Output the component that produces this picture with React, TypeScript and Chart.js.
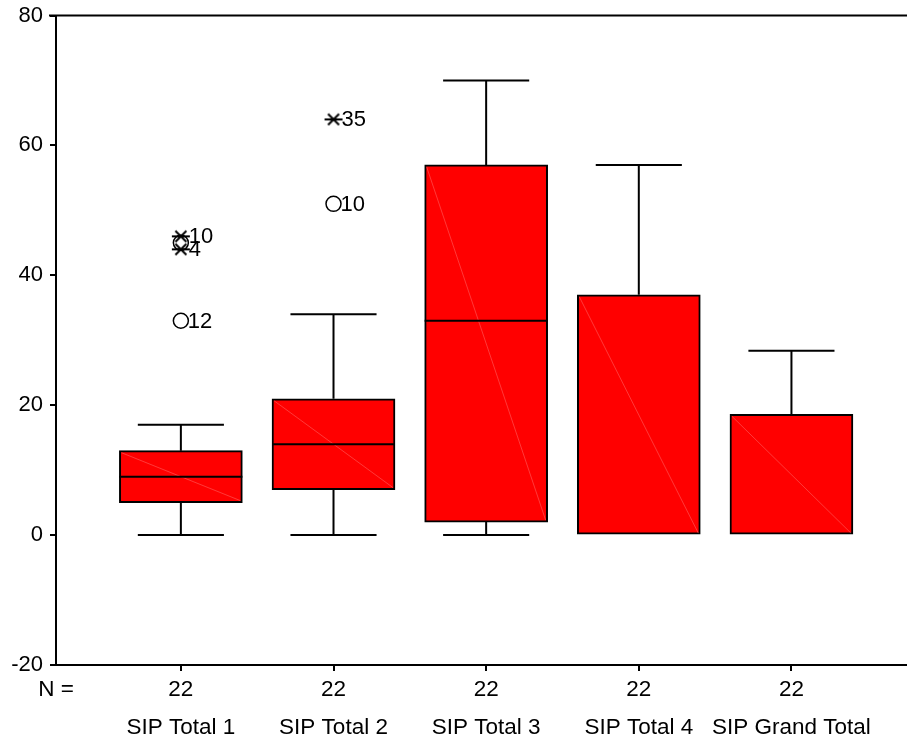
import React, { useEffect, useRef } from 'react';
import { Chart, registerables } from 'chart.js';

Chart.register(...registerables);

// ---- data ----
const categories = ['SIP Total 1', 'SIP Total 2', 'SIP Total 3', 'SIP Total 4', 'SIP Grand Total'];
const counts = [22, 22, 22, 22, 22];
const whiskerLow = [0, 0, 0, 0, 0];
const q1 = [5, 7, 2, 0, 0];
const median = [9, 14, 33, 0, 0];
const q3 = [13, 21, 57, 37, 18.6];
const whiskerHigh = [17, 34, 70, 57, 28.4];

// outliers (circles) and extremes (asterisks): category index (1-based), value, case label
const outlierCat = [1, 1, 2];
const outlierVal = [33, 45, 51];
const outlierLabel = ['12', '', '10'];
const extremeCat = [1, 1, 2];
const extremeVal = [46, 44, 64];
const extremeLabel = ['10', '4', '35'];

const yTicks = [-20, 0, 20, 40, 60, 80];

const FONT = "'Liberation Sans', Arial, sans-serif";
const X_MIN = 0.182;
const X_MAX = 5.757;

export default function App() {
  const ref = useRef<HTMLCanvasElement>(null);

  useEffect(() => {
    document.body.style.margin = '0';
    const canvas = ref.current;
    if (!canvas) return;

    // asterisk point style
    const star = document.createElement('canvas');
    star.width = 20;
    star.height = 14;
    const sc = star.getContext('2d')!;
    sc.strokeStyle = '#000';
    sc.lineWidth = 2;
    sc.beginPath();
    sc.moveTo(1, 7);
    sc.lineTo(19, 7);
    sc.moveTo(4.5, 1.5);
    sc.lineTo(15.5, 12.5);
    sc.moveTo(15.5, 1.5);
    sc.lineTo(4.5, 12.5);
    sc.stroke();

    const boxPlugin = {
      id: 'boxExtras',
      beforeDatasetsDraw(chart: any) {
        const { ctx, scales, chartArea } = chart;
        const x = scales.x;
        const y = scales.y;
        ctx.save();
        ctx.strokeStyle = '#000';
        ctx.lineWidth = 2;
        // top frame line
        ctx.beginPath();
        ctx.moveTo(chartArea.left - 7, chartArea.top);
        ctx.lineTo(chartArea.right, chartArea.top);
        ctx.stroke();
        const meta = chart.getDatasetMeta(0);
        categories.forEach((_, i) => {
          const bar: any = meta.data[i];
          const w = bar.width;
          const cx = x.getPixelForValue(i + 1);
          const capHalf = w * 0.35;
          const pairs = [
            [q1[i], whiskerLow[i]],
            [q3[i], whiskerHigh[i]],
          ];
          pairs.forEach(([from, to]) => {
            if (from === to) return;
            const y0 = y.getPixelForValue(from);
            const y1 = y.getPixelForValue(to);
            ctx.beginPath();
            ctx.moveTo(cx, y0);
            ctx.lineTo(cx, y1);
            ctx.moveTo(cx - capHalf, y1);
            ctx.lineTo(cx + capHalf, y1);
            ctx.stroke();
          });
        });
        ctx.restore();
      },
      afterDatasetsDraw(chart: any) {
        const { ctx, scales } = chart;
        const x = scales.x;
        const y = scales.y;
        const meta = chart.getDatasetMeta(0);
        ctx.save();
        categories.forEach((_, i) => {
          const bar: any = meta.data[i];
          const w = bar.width;
          const left = bar.x - w / 2;
          const right = bar.x + w / 2;
          const top = y.getPixelForValue(q3[i]);
          const bottom = y.getPixelForValue(q1[i]);
          // faint diagonal
          ctx.strokeStyle = 'rgba(255,120,120,0.8)';
          ctx.lineWidth = 0.6;
          ctx.beginPath();
          ctx.moveTo(left + 2, top + 2);
          ctx.lineTo(right - 2, bottom - 2);
          ctx.stroke();
          // median
          if (median[i] !== q1[i] && median[i] !== q3[i]) {
            ctx.strokeStyle = '#000';
            ctx.lineWidth = 2;
            const my = y.getPixelForValue(median[i]);
            ctx.beginPath();
            ctx.moveTo(left, my);
            ctx.lineTo(right, my);
            ctx.stroke();
          }
        });
        // case labels
        ctx.fillStyle = '#000';
        ctx.font = `22px ${FONT}`;
        ctx.textAlign = 'left';
        ctx.textBaseline = 'middle';
        outlierCat.forEach((c, k) => {
          if (!outlierLabel[k]) return;
          ctx.fillText(outlierLabel[k], x.getPixelForValue(c) + 7, y.getPixelForValue(outlierVal[k]) + 1);
        });
        extremeCat.forEach((c, k) => {
          if (!extremeLabel[k]) return;
          ctx.fillText(extremeLabel[k], x.getPixelForValue(c) + 8, y.getPixelForValue(extremeVal[k]) + 1);
        });
        ctx.restore();
      },
    };

    const chart = new Chart(canvas, {
      type: 'bar',
      data: {
        datasets: [
          {
            type: 'bar',
            data: categories.map((_, i) => ({ x: i + 1, y: [q1[i], q3[i]] })) as any,
            backgroundColor: '#ff0000',
            borderColor: '#000',
            borderWidth: 2,
            borderSkipped: false,
            barThickness: 123,
            order: 2,
          } as any,
          {
            type: 'scatter',
            data: outlierCat.map((c, k) => ({ x: c, y: outlierVal[k] })),
            pointStyle: 'circle',
            pointRadius: 7.5,
            borderWidth: 1.5,
            borderColor: '#000',
            backgroundColor: 'rgba(0,0,0,0)',
            order: 1,
          } as any,
          {
            type: 'scatter',
            data: extremeCat.map((c, k) => ({ x: c, y: extremeVal[k] })),
            pointStyle: star,
            pointRadius: 8,
            order: 0,
          } as any,
        ],
      },
      options: {
        responsive: false,
        animation: false,
        devicePixelRatio: 1,
        layout: { autoPadding: false, padding: { top: 15.5, right: 0, bottom: 0, left: 0 } },
        plugins: { legend: { display: false }, tooltip: { enabled: false } },
        scales: {
          x: {
            type: 'linear',
            offset: false,
            min: X_MIN,
            max: X_MAX,
            afterBuildTicks: (scale: any) => {
              scale.ticks = [{ value: X_MIN }, ...categories.map((_, i) => ({ value: i + 1 }))];
            },
            afterFit: (scale: any) => {
              scale.height = 75;
              scale.paddingLeft = 0;
              scale.paddingRight = 0;
            },
            ticks: {
              autoSkip: false,
              maxRotation: 0,
              minRotation: 0,
              padding: 0,
              color: '#000',
              font: { family: FONT, size: 22.5, lineHeight: 1.68 },
              callback: (value: any) => {
                const v = Number(value);
                if (Math.abs(v - X_MIN) < 1e-6) return ['N =', ''];
                const i = Math.round(v) - 1;
                return [String(counts[i]), categories[i]];
              },
            },
            grid: {
              offset: false,
              drawOnChartArea: false,
              drawTicks: true,
              tickLength: 6,
              lineWidth: 2,
              color: (c: any) => (c.tick && Math.abs(c.tick.value - X_MIN) < 1e-6 ? 'rgba(0,0,0,0)' : '#000'),
            },
            border: { display: true, color: '#000', width: 2 },
          },
          y: {
            type: 'linear',
            min: -20,
            max: 80,
            afterBuildTicks: (scale: any) => {
              scale.ticks = yTicks.map((v) => ({ value: v }));
            },
            afterFit: (scale: any) => {
              scale.width = 56;
              scale.paddingTop = 0;
              scale.paddingBottom = 0;
            },
            ticks: {
              padding: 7,
              color: '#000',
              font: { family: FONT, size: 22 },
            },
            grid: {
              drawOnChartArea: false,
              drawTicks: true,
              tickLength: 6,
              lineWidth: 2,
              color: '#000',
            },
            border: { display: true, color: '#000', width: 2 },
          },
        },
      },
      plugins: [boxPlugin],
    });

    return () => chart.destroy();
  }, []);

  return (
    <div style={{ width: 907, height: 740 }}>
      <canvas ref={ref} width={907} height={740} style={{ display: 'block' }} />
    </div>
  );
}
